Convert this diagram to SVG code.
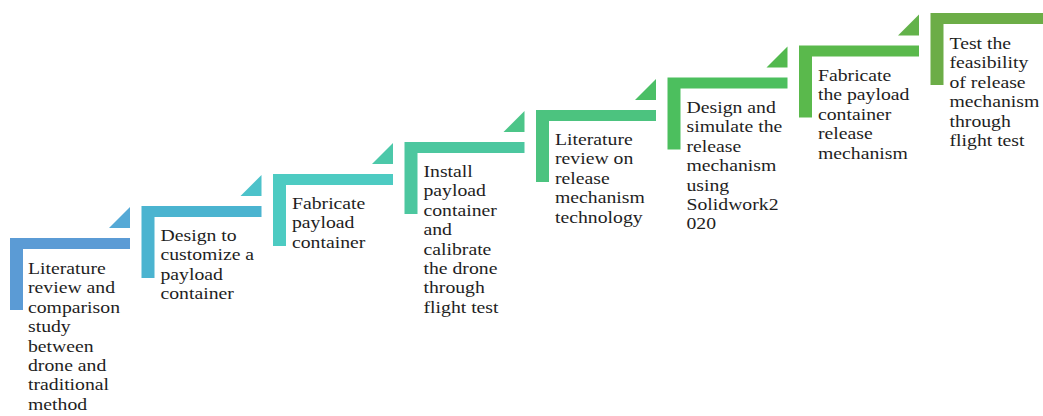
<svg xmlns="http://www.w3.org/2000/svg" width="1043" height="416" viewBox="0 0 1043 416">
<style>
text{font-family:"Liberation Serif","Times New Roman",serif;font-size:17px;fill:#1e1e1e}
</style>
<rect width="1043" height="416" fill="#fff"/>
<g id="step1">
<path d="M10 238H130V249H23V310H10Z" fill="#5B9BD5"/>
<path d="M130 207V228H109Z" fill="#55A9D6"/>
<text transform="matrix(1.16 0 0 1 28 274)"><tspan x="0">Literature</tspan><tspan x="0" dy="19.4">review and</tspan><tspan x="0" dy="19.4">comparison</tspan><tspan x="0" dy="19.4">study</tspan><tspan x="0" dy="19.4">between</tspan><tspan x="0" dy="19.4">drone and</tspan><tspan x="0" dy="19.4">traditional</tspan><tspan x="0" dy="19.4">method</tspan></text>
</g>
<g id="step2">
<path d="M141.5 206H261.5V217H154.5V278H141.5Z" fill="#4BB4D0"/>
<path d="M261.5 175V196H240.5Z" fill="#4CC2CA"/>
<text transform="matrix(1.16 0 0 1 160.5 241)"><tspan x="0">Design to</tspan><tspan x="0" dy="19.4">customize a</tspan><tspan x="0" dy="19.4">payload</tspan><tspan x="0" dy="19.4">container</tspan></text>
</g>
<g id="step3">
<path d="M273 174H393V185H286V246H273Z" fill="#4DCBC2"/>
<path d="M393 143V164H372Z" fill="#4CC8A9"/>
<text transform="matrix(1.16 0 0 1 292 209)"><tspan x="0">Fabricate</tspan><tspan x="0" dy="19.4">payload</tspan><tspan x="0" dy="19.4">container</tspan></text>
</g>
<g id="step4">
<path d="M404.5 142H524.5V153H417.5V214H404.5Z" fill="#4CC79F"/>
<path d="M524.5 111V132H503.5Z" fill="#4CC588"/>
<text transform="matrix(1.16 0 0 1 423.5 177)"><tspan x="0">Install</tspan><tspan x="0" dy="19.4">payload</tspan><tspan x="0" dy="19.4">container</tspan><tspan x="0" dy="19.4">and</tspan><tspan x="0" dy="19.4">calibrate</tspan><tspan x="0" dy="19.4">the drone</tspan><tspan x="0" dy="19.4">through</tspan><tspan x="0" dy="19.4">flight test</tspan></text>
</g>
<g id="step5">
<path d="M536 110H656V121H549V182H536Z" fill="#4CC37F"/>
<path d="M656 79V100H635Z" fill="#4BBF65"/>
<text transform="matrix(1.16 0 0 1 555 145)"><tspan x="0">Literature</tspan><tspan x="0" dy="19.4">review on</tspan><tspan x="0" dy="19.4">release</tspan><tspan x="0" dy="19.4">mechanism</tspan><tspan x="0" dy="19.4">technology</tspan></text>
</g>
<g id="step6">
<path d="M667.5 77.5H787.5V88.5H680.5V149.5H667.5Z" fill="#4CBF5E"/>
<path d="M787.5 46.5V67.5H766.5Z" fill="#52B94E"/>
<text transform="matrix(1.16 0 0 1 686.5 113)"><tspan x="0">Design and</tspan><tspan x="0" dy="19.4">simulate the</tspan><tspan x="0" dy="19.4">release</tspan><tspan x="0" dy="19.4">mechanism</tspan><tspan x="0" dy="19.4">using</tspan><tspan x="0" dy="19.4">Solidwork2</tspan><tspan x="0" dy="19.4">020</tspan></text>
</g>
<g id="step7">
<path d="M799 45.5H919V56.5H812V117.5H799Z" fill="#5AB94C"/>
<path d="M919 14.5V35.5H898Z" fill="#63B24A"/>
<text transform="matrix(1.16 0 0 1 818 81)"><tspan x="0">Fabricate</tspan><tspan x="0" dy="19.4">the payload</tspan><tspan x="0" dy="19.4">container</tspan><tspan x="0" dy="19.4">release</tspan><tspan x="0" dy="19.4">mechanism</tspan></text>
</g>
<g id="step8">
<path d="M930.5 13H1050.5V24H943.5V85H930.5Z" fill="#6CAD47"/>
<text transform="matrix(1.16 0 0 1 949.5 49)"><tspan x="0">Test the</tspan><tspan x="0" dy="19.4">feasibility</tspan><tspan x="0" dy="19.4">of release</tspan><tspan x="0" dy="19.4">mechanism</tspan><tspan x="0" dy="19.4">through</tspan><tspan x="0" dy="19.4">flight test</tspan></text>
</g>
<g id="connectors"></g>
</svg>
